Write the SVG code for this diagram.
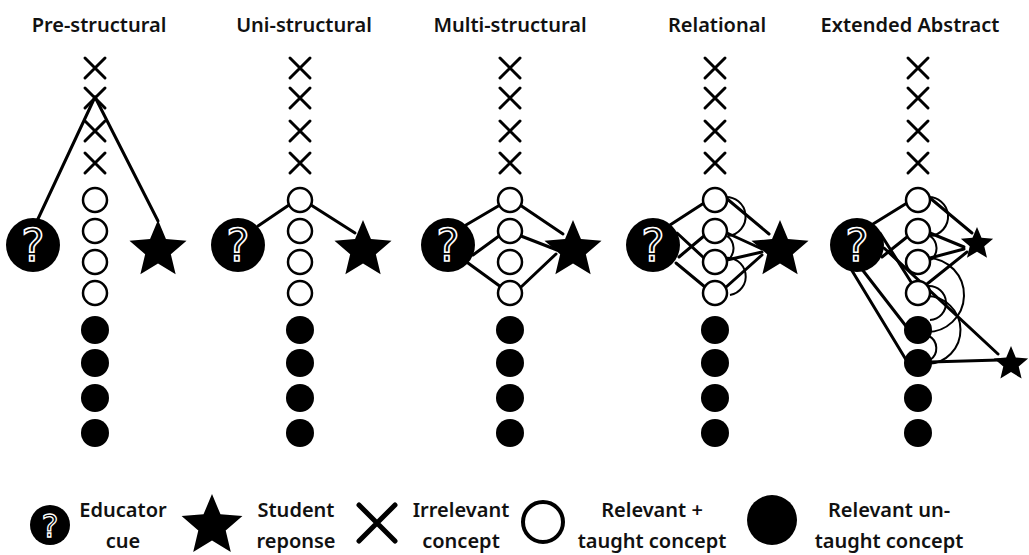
<svg xmlns="http://www.w3.org/2000/svg" xmlns:xlink="http://www.w3.org/1999/xlink" width="1029" height="555" viewBox="0 0 1029 555">
<style>
.title{font-family:"Noto Sans","Open Sans",sans-serif;font-weight:600;font-size:20px;fill:#111;text-anchor:middle}
.leg{font-family:"Noto Sans","Open Sans",sans-serif;font-weight:600;font-size:20px;fill:#111;text-anchor:middle}
.open{fill:#fff;stroke:#000;stroke-width:2.5}
.fill{fill:#000}
.xm{stroke:#000;stroke-width:3;fill:none;stroke-linecap:round}
.ln{stroke:#000;stroke-width:3;fill:none;stroke-linecap:round}
.arc{stroke:#000;stroke-width:2;fill:none}
.q{fill:#000}
.qt{font-family:"DejaVu Sans",sans-serif;font-size:44px;fill:#000;stroke:#fff;stroke-width:1.6;text-anchor:middle}
</style>
<defs>
<path id="star" d="M0,-1 L0.265,-0.364 L0.951,-0.309 L0.428,0.139 L0.588,0.809 L0,0.45 L-0.588,0.809 L-0.428,0.139 L-0.951,-0.309 L-0.265,-0.364 Z"/>
<path id="xmark" class="xm" d="M-10,-10 L10,10 M10,-10 L-10,10"/>
</defs>
<rect width="1029" height="555" fill="#fff"/>

<g id="titles">
<text class="title" x="99" y="32">Pre-structural</text>
<text class="title" x="304" y="32">Uni-structural</text>
<text class="title" x="510" y="32">Multi-structural</text>
<text class="title" x="717" y="32">Relational</text>
<text class="title" x="910" y="32">Extended Abstract</text>
</g>

<g id="connectors">
<!-- panel 1 -->
<line class="ln" x1="37" y1="221" x2="95" y2="97"/>
<line class="ln" x1="95" y1="97" x2="158" y2="221"/>
<!-- panel 2 -->
<line class="ln" x1="258" y1="226" x2="289" y2="205"/>
<line class="ln" x1="311" y1="205" x2="355" y2="233"/>
<!-- panel 3 -->
<line class="ln" x1="466" y1="225" x2="500" y2="205"/>
<line class="ln" x1="473" y1="255" x2="499" y2="236"/>
<line class="ln" x1="468" y1="263" x2="501" y2="287"/>
<line class="ln" x1="520" y1="205" x2="563" y2="234"/>
<line class="ln" x1="521" y1="236" x2="557" y2="250"/>
<line class="ln" x1="520" y1="288" x2="556" y2="254"/>
<!-- panel 4 -->
<line class="ln" x1="670" y1="225" x2="704" y2="203"/>
<line class="ln" x1="677" y1="233" x2="704" y2="258"/>
<line class="ln" x1="679" y1="257" x2="704" y2="236"/>
<line class="ln" x1="676" y1="263" x2="705" y2="287"/>
<line class="ln" x1="726" y1="198" x2="769" y2="234"/>
<line class="ln" x1="727" y1="233" x2="762" y2="249"/>
<line class="ln" x1="727" y1="260" x2="762" y2="252"/>
<line class="ln" x1="725" y1="288" x2="762" y2="255"/>
<path class="arc" d="M724,197 A19,19 0 0 1 728,236"/>
<path class="arc" d="M727,236 A15,15 0 0 1 728,260"/>
<path class="arc" d="M724,258 A18,18 0 0 1 730,295"/>
<!-- panel 5 -->
<line class="ln" x1="873" y1="224" x2="907" y2="203"/>
<line class="ln" x1="880" y1="233" x2="918" y2="293"/>
<line class="ln" x1="882" y1="257" x2="907" y2="237"/>
<line class="ln" x1="884" y1="248" x2="998" y2="354"/>
<line class="ln" x1="861" y1="268" x2="909" y2="330"/>
<line class="ln" x1="851" y1="269" x2="908" y2="363"/>
<line class="ln" x1="930" y1="198" x2="972" y2="233"/>
<line class="ln" x1="930" y1="233" x2="964" y2="247"/>
<line class="ln" x1="930" y1="258" x2="964" y2="249"/>
<line class="ln" x1="927" y1="284" x2="967" y2="252"/>
<line class="ln" x1="930" y1="362" x2="999" y2="360"/>
<path class="arc" d="M927,197 A19,19 0 0 1 930,236"/>
<path class="arc" d="M930,236 A15,15 0 0 1 931,260"/>
<path class="arc" d="M928,258 A37,37 0 0 1 926,332"/>
<path class="arc" d="M928,286 A16,16 0 0 1 930,320"/>
<path class="arc" d="M926,296 A34,34 0 0 1 927,364"/>
<path class="arc" d="M929,336 A14,14 0 0 1 930,360"/>
</g>

<!-- Panel 1 -->
<g id="p1-cue"><circle class="q" cx="33" cy="245" r="27"/><text class="qt" x="33" y="261">?</text></g>
<g id="p1-response"><use href="#star" transform="translate(158,250) scale(30)"/></g>
<g id="p1-x1"><use href="#xmark" x="95" y="68"/></g>
<g id="p1-x2"><use href="#xmark" x="95" y="98"/></g>
<g id="p1-x3"><use href="#xmark" x="95" y="131"/></g>
<g id="p1-x4"><use href="#xmark" x="95" y="163"/></g>
<g id="p1-t1"><circle class="open" cx="95" cy="200" r="12"/></g>
<g id="p1-t2"><circle class="open" cx="95" cy="231" r="12"/></g>
<g id="p1-t3"><circle class="open" cx="95" cy="262" r="12"/></g>
<g id="p1-t4"><circle class="open" cx="95" cy="293" r="12"/></g>
<g id="p1-u1"><circle class="fill" cx="95" cy="330" r="14"/></g>
<g id="p1-u2"><circle class="fill" cx="95" cy="363" r="14"/></g>
<g id="p1-u3"><circle class="fill" cx="95" cy="398" r="14"/></g>
<g id="p1-u4"><circle class="fill" cx="95" cy="433" r="14"/></g>

<!-- Panel 2 -->
<g id="p2-cue"><circle class="q" cx="238" cy="245" r="27"/><text class="qt" x="238" y="261">?</text></g>
<g id="p2-response"><use href="#star" transform="translate(363,250) scale(30)"/></g>
<g id="p2-x1"><use href="#xmark" x="300" y="68"/></g>
<g id="p2-x2"><use href="#xmark" x="300" y="98"/></g>
<g id="p2-x3"><use href="#xmark" x="300" y="131"/></g>
<g id="p2-x4"><use href="#xmark" x="300" y="163"/></g>
<g id="p2-t1"><circle class="open" cx="300" cy="200" r="12"/></g>
<g id="p2-t2"><circle class="open" cx="300" cy="231" r="12"/></g>
<g id="p2-t3"><circle class="open" cx="300" cy="262" r="12"/></g>
<g id="p2-t4"><circle class="open" cx="300" cy="293" r="12"/></g>
<g id="p2-u1"><circle class="fill" cx="300" cy="330" r="14"/></g>
<g id="p2-u2"><circle class="fill" cx="300" cy="363" r="14"/></g>
<g id="p2-u3"><circle class="fill" cx="300" cy="398" r="14"/></g>
<g id="p2-u4"><circle class="fill" cx="300" cy="433" r="14"/></g>

<!-- Panel 3 -->
<g id="p3-cue"><circle class="q" cx="448" cy="245" r="27"/><text class="qt" x="448" y="261">?</text></g>
<g id="p3-response"><use href="#star" transform="translate(573,250) scale(30)"/></g>
<g id="p3-x1"><use href="#xmark" x="510" y="68"/></g>
<g id="p3-x2"><use href="#xmark" x="510" y="98"/></g>
<g id="p3-x3"><use href="#xmark" x="510" y="131"/></g>
<g id="p3-x4"><use href="#xmark" x="510" y="163"/></g>
<g id="p3-t1"><circle class="open" cx="510" cy="200" r="12"/></g>
<g id="p3-t2"><circle class="open" cx="510" cy="231" r="12"/></g>
<g id="p3-t3"><circle class="open" cx="510" cy="262" r="12"/></g>
<g id="p3-t4"><circle class="open" cx="510" cy="293" r="12"/></g>
<g id="p3-u1"><circle class="fill" cx="510" cy="330" r="14"/></g>
<g id="p3-u2"><circle class="fill" cx="510" cy="363" r="14"/></g>
<g id="p3-u3"><circle class="fill" cx="510" cy="398" r="14"/></g>
<g id="p3-u4"><circle class="fill" cx="510" cy="433" r="14"/></g>

<!-- Panel 4 -->
<g id="p4-cue"><circle class="q" cx="653" cy="245" r="27"/><text class="qt" x="653" y="261">?</text></g>
<g id="p4-response"><use href="#star" transform="translate(780,250) scale(30)"/></g>
<g id="p4-x1"><use href="#xmark" x="715" y="68"/></g>
<g id="p4-x2"><use href="#xmark" x="715" y="98"/></g>
<g id="p4-x3"><use href="#xmark" x="715" y="131"/></g>
<g id="p4-x4"><use href="#xmark" x="715" y="163"/></g>
<g id="p4-t1"><circle class="open" cx="715" cy="200" r="12"/></g>
<g id="p4-t2"><circle class="open" cx="715" cy="231" r="12"/></g>
<g id="p4-t3"><circle class="open" cx="715" cy="262" r="12"/></g>
<g id="p4-t4"><circle class="open" cx="715" cy="293" r="12"/></g>
<g id="p4-u1"><circle class="fill" cx="715" cy="330" r="14"/></g>
<g id="p4-u2"><circle class="fill" cx="715" cy="363" r="14"/></g>
<g id="p4-u3"><circle class="fill" cx="715" cy="398" r="14"/></g>
<g id="p4-u4"><circle class="fill" cx="715" cy="433" r="14"/></g>

<!-- Panel 5 -->
<g id="p5-cue"><circle class="q" cx="857" cy="245" r="27"/><text class="qt" x="857" y="261">?</text></g>
<g id="p5-response1"><use href="#star" transform="translate(977,244) scale(17)"/></g>
<g id="p5-response2"><use href="#star" transform="translate(1011,364) scale(18)"/></g>
<g id="p5-x1"><use href="#xmark" x="918" y="68"/></g>
<g id="p5-x2"><use href="#xmark" x="918" y="98"/></g>
<g id="p5-x3"><use href="#xmark" x="918" y="131"/></g>
<g id="p5-x4"><use href="#xmark" x="918" y="163"/></g>
<g id="p5-t1"><circle class="open" cx="918" cy="200" r="12"/></g>
<g id="p5-t2"><circle class="open" cx="918" cy="231" r="12"/></g>
<g id="p5-t3"><circle class="open" cx="918" cy="262" r="12"/></g>
<g id="p5-t4"><circle class="open" cx="918" cy="293" r="12"/></g>
<g id="p5-u1"><circle class="fill" cx="918" cy="330" r="14"/></g>
<g id="p5-u2"><circle class="fill" cx="918" cy="363" r="14"/></g>
<g id="p5-u3"><circle class="fill" cx="918" cy="398" r="14"/></g>
<g id="p5-u4"><circle class="fill" cx="918" cy="433" r="14"/></g>

<!-- Legend -->
<g id="legend-cue"><circle class="q" cx="50" cy="525" r="20"/><text class="qt" x="50" y="537" style="font-size:32px;stroke-width:1.3">?</text>
<text class="leg" x="123" y="517">Educator</text><text class="leg" x="123" y="548">cue</text></g>
<g id="legend-response"><use href="#star" transform="translate(212,526) scale(32)"/>
<text class="leg" x="296" y="517">Student</text><text class="leg" x="296" y="548">reponse</text></g>
<g id="legend-irrelevant"><path d="M359,505 L395,541 M395,505 L359,541" stroke="#000" stroke-width="5" stroke-linecap="round"/>
<text class="leg" x="461" y="517">Irrelevant</text><text class="leg" x="461" y="548">concept</text></g>
<g id="legend-taught"><circle cx="543" cy="522" r="20" fill="#fff" stroke="#000" stroke-width="4"/>
<text class="leg" x="652" y="517">Relevant +</text><text class="leg" x="652" y="548">taught concept</text></g>
<g id="legend-untaught"><circle cx="772" cy="520" r="25" fill="#000"/>
<text class="leg" x="889" y="517">Relevant un-</text><text class="leg" x="889" y="548">taught concept</text></g>
</svg>
